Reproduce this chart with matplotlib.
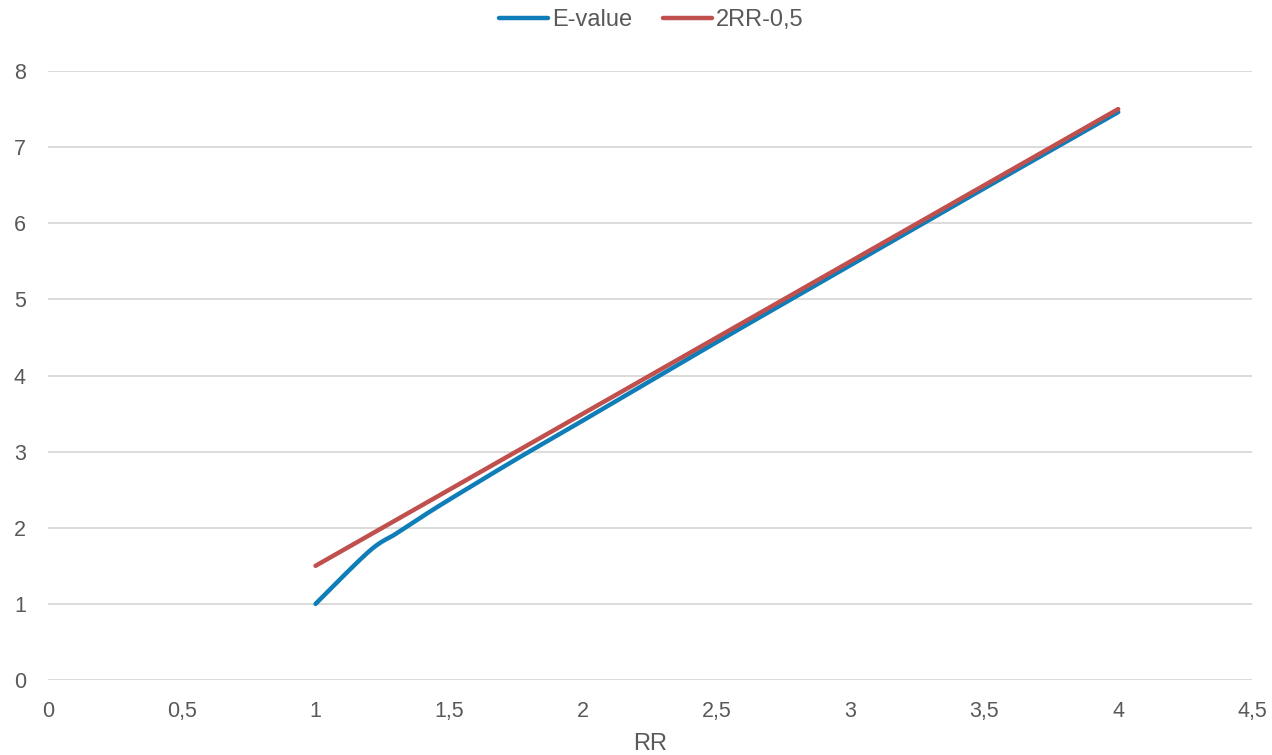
import matplotlib
matplotlib.use("Agg")
import matplotlib.pyplot as plt
import numpy as np

plt.rcParams['font.family'] = ['Liberation Sans', 'DejaVu Sans']

# Risk ratio values and the two curves
rr = [1.0, 1.2, 1.3, 1.4, 1.5, 1.75, 2.0, 2.5, 3.0, 3.5, 4.0]
e_value = [1.00, 1.69, 1.92, 2.15, 2.37, 2.90, 3.41, 4.44, 5.45, 6.46, 7.46]
rr_line = [1.0, 4.0]
two_rr_minus_half = [1.5, 7.5]

x_ticks = [0, 0.5, 1, 1.5, 2, 2.5, 3, 3.5, 4, 4.5]
x_tick_labels = ['0', '0,5', '1', '1,5', '2', '2,5', '3', '3,5', '4', '4,5']
y_ticks = [0, 1, 2, 3, 4, 5, 6, 7, 8]

text_color = '#595959'


def smooth_line(xs, ys, steps=20):
    """Catmull-Rom pass through the given points (spreadsheet-style smoothed line)."""
    p = np.column_stack([xs, ys]).astype(float)
    p = np.vstack([p[0], p, p[-1]])
    out = []
    t = np.linspace(0, 1, steps, endpoint=False)[:, None]
    for i in range(1, len(p) - 2):
        p0, p1, p2, p3 = p[i - 1], p[i], p[i + 1], p[i + 2]
        seg = 0.5 * ((2 * p1) + (-p0 + p2) * t + (2 * p0 - 5 * p1 + 4 * p2 - p3) * t**2
                     + (-p0 + 3 * p1 - 3 * p2 + p3) * t**3)
        out.append(seg)
    out.append(p[-2][None, :])
    out = np.vstack(out)
    return out[:, 0], out[:, 1]


fig = plt.figure(figsize=(12.72, 7.55), dpi=100)
ax = fig.add_axes([48/1272, 1 - 680/755, (1252 - 48)/1272, (680 - 71)/755])

sx, sy = smooth_line(rr, e_value)
ax.plot(sx, sy, color='#0E7DB8', lw=3.2, solid_capstyle='round',
        solid_joinstyle='round', label='E-value', zorder=3)
ax.plot(rr_line, two_rr_minus_half, color='#C0504D', lw=3.2, solid_capstyle='round',
        label='2RR-0,5', zorder=3)

ax.set_xlim(0, 4.5)
ax.set_ylim(0, 8)
ax.set_xticks(x_ticks)
ax.set_xticklabels(x_tick_labels)
ax.set_yticks(y_ticks)
ax.grid(axis='y', color='#D9D9D9', lw=1.3)
ax.set_axisbelow(True)
for s in ax.spines.values():
    s.set_visible(False)
ax.tick_params(length=0, labelsize=15.5, colors=text_color)
ax.tick_params(axis='x', pad=15)
ax.tick_params(axis='y', pad=16)

ax.set_xlabel('RR', fontsize=17, color=text_color, labelpad=8)

leg = fig.legend(loc='center', bbox_to_anchor=(651/1272, 1 - 20/755), ncol=2, frameon=False,
                 fontsize=17, handlelength=2.1, handletextpad=0.15, columnspacing=1.3)
for t in leg.get_texts():
    t.set_color(text_color)

fig.savefig('out.png', dpi=100)
